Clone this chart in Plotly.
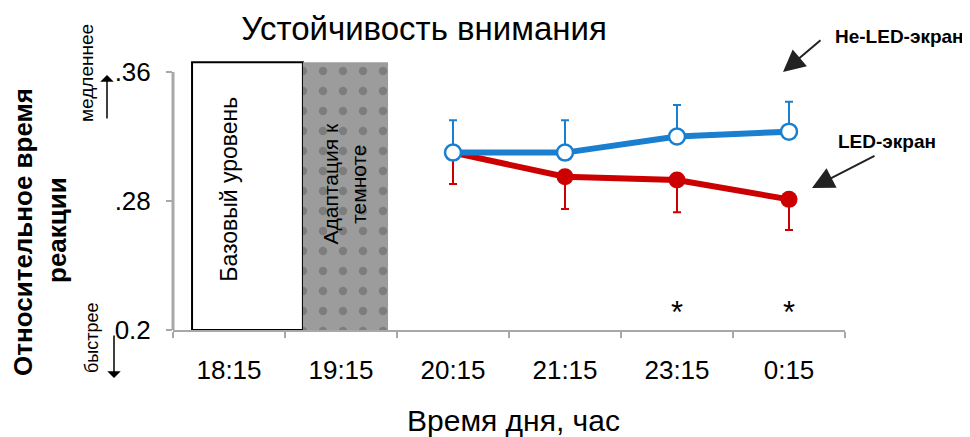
import plotly.graph_objects as go

categories = ["18:15", "19:15", "20:15", "21:15", "23:15", "0:15"]
time_points = ["20:15", "21:15", "23:15", "0:15"]
non_led = [0.310, 0.310, 0.320, 0.323]
non_led_err_up = [0.020, 0.020, 0.0195, 0.0185]
led = [0.310, 0.295, 0.293, 0.281]
led_err_down = [0.0195, 0.020, 0.020, 0.019]
star_points = ["23:15", "0:15"]
star_level = [0.209, 0.209]
y_ticks = [0.2, 0.28, 0.36]
y_ticktext = ["0.2", ".28", ".36"]
baseline_top = 0.366

FONT = "Liberation Sans"
BLUE = "#1a7fcf"
RED = "#cc0000"

OFF = 8  # page body margin
L, R, T, B = 173 - OFF, 125 + OFF, 61 - OFF, 107 + OFF
PW, PH = 970 - L - R, 437 - T - B


def px(x):
    return (x - OFF - L) / PW


def py(y):
    return (437 - B - (y - OFF)) / PH


fig = go.Figure()

# baseline box (white)
fig.add_trace(go.Bar(
    x=["18:15"], y=[baseline_top - 0.2], base=[0.2],
    offset=-0.33, width=0.99,
    marker=dict(color="white", line=dict(color="black", width=2)),
    hoverinfo="skip", showlegend=False))
# dark adaptation box (gray dotted)
fig.add_trace(go.Bar(
    x=["19:15"], y=[baseline_top - 0.2], base=[0.2],
    offset=-0.34, width=0.76,
    marker=dict(color="#9c9c9c", line=dict(width=0),
                pattern=dict(shape=".", fgcolor="#5e5e5e", bgcolor="#9c9c9c",
                             size=20, solidity=0.14)),
    hoverinfo="skip", showlegend=False))

fig.add_trace(go.Scatter(
    x=time_points, y=led, mode="lines+markers",
    line=dict(color=RED, width=6),
    marker=dict(color=RED, size=17),
    error_y=dict(type="data", symmetric=False, array=[0]*4, arrayminus=led_err_down,
                 color=RED, thickness=2, width=4),
    showlegend=False))
fig.add_trace(go.Scatter(
    x=time_points, y=non_led, mode="lines+markers",
    line=dict(color=BLUE, width=6),
    marker=dict(color="white", size=16, line=dict(color=BLUE, width=2.5)),
    error_y=dict(type="data", symmetric=False, array=non_led_err_up, arrayminus=[0]*4,
                 color=BLUE, thickness=2, width=4),
    showlegend=False))
fig.add_trace(go.Scatter(
    x=star_points, y=star_level, mode="text", text=["*", "*"],
    textfont=dict(size=31, color="black", family=FONT), showlegend=False))


def text_ann(x, y, text, size, angle=0, ref="paper"):
    return dict(x=x, y=y, xref=ref, yref=ref if ref == "paper" else "y", text=text,
                textangle=angle, showarrow=False, xanchor="center", yanchor="middle",
                font=dict(size=size, color="black", family=FONT))


def arrow_ann(x, y, ax, ay, head, width, size, color):
    return dict(x=x, y=y, xref="paper", yref="paper", text="", showarrow=True,
                ax=ax, ay=ay, arrowhead=head, arrowwidth=width, arrowsize=size,
                arrowcolor=color, standoff=0, startstandoff=0)


ann = []
ann.append(dict(text_ann(0, 0.287, "Базовый уровень", 23, -90, ref="x")))
ann.append(dict(text_ann(1.03, 0.2905, "Адаптация к<br>темноте", 21, -90, ref="x")))
# y-axis title lines
ann.append(text_ann(px(23), py(232), "<b>Относительное время</b>", 26, -90))
ann.append(text_ann(px(57), py(230), "<b>реакции</b>", 26, -90))
# slower / faster
ann.append(text_ann(px(86), py(73), "медленнее", 19, -90))
ann.append(arrow_ann(px(107), py(75), 0, 45, 1, 1.5, 1.5, "black"))
ann.append(text_ann(px(92), py(338), "быстрее", 18, -90))
ann.append(arrow_ann(px(114), py(378), 0, -44, 1, 1.5, 1.5, "black"))
# series labels with arrows
ann.append(text_ann(px(899), py(36), "<b>Не-LED-экран</b>", 19))
ann.append(arrow_ann(px(783), py(72), 39, -33, 2, 2, 2.2, "#222"))
ann.append(text_ann(px(887), py(141), "<b>LED-экран</b>", 19))
ann.append(arrow_ann(px(812), py(188), 64, -33, 2, 2, 2.2, "#222"))
# x-axis title
ann.append(text_ann(px(513), py(420), "Время дня, час", 30))

shapes = [dict(type="line", xref="paper", yref="y", x0=0, x1=0, y0=0.2, y1=0.36,
               line=dict(color="#a8a8a8", width=3))]

fig.update_layout(
    width=970, height=437,
    margin=dict(l=L, r=R, t=T, b=B, autoexpand=False),
    plot_bgcolor="white", paper_bgcolor="white",
    font=dict(family=FONT, color="black"),
    title=dict(text="Устойчивость внимания", x=(424 - OFF) / 970, xanchor="center",
               y=1 - (28 - OFF) / 437, yanchor="middle", yref="container",
               font=dict(size=33, family=FONT, color="black")),
    barmode="overlay",
    annotations=ann, shapes=shapes,
    showlegend=False,
)
fig.update_xaxes(
    type="category", categoryorder="array", categoryarray=categories,
    range=[-0.5, 5.5], showgrid=False, zeroline=False, automargin=False,
    showline=True, linecolor="#a8a8a8", linewidth=2,
    ticks="outside", tickson="boundaries", ticklen=6, tickcolor="#a8a8a8", tickwidth=2,
    tickfont=dict(size=26, family=FONT, color="black"), ticklabelstandoff=16,
)
fig.update_yaxes(
    range=[0.2, 0.3668], showgrid=False, zeroline=False, showline=False, automargin=False,
    tickvals=y_ticks, ticktext=y_ticktext,
    ticks="outside", ticklen=6, tickcolor="#a8a8a8", tickwidth=2,
    tickfont=dict(size=26, family=FONT, color="black"), ticklabelstandoff=10,
)

fig.write_html("out.html")
